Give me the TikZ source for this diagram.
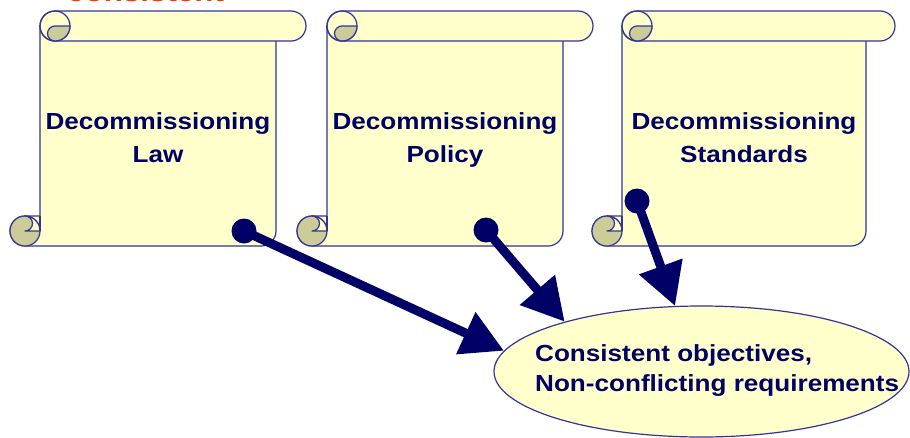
\documentclass[tikz,border=0pt]{standalone}
\usepackage{fontspec}
\setmainfont{Liberation Sans}
\newfontfamily\dfont{Liberation Sans}[FakeStretch=1.12]
\usetikzlibrary{arrows.meta,shapes.geometric}
\definecolor{paper}{HTML}{FFFFCC}
\definecolor{curl}{HTML}{CCCC99}
\definecolor{edge}{HTML}{333399}
\definecolor{ink}{HTML}{000066}
\definecolor{warn}{HTML}{FF3300}
\tikzset{
  paperstyle/.style={fill=paper,draw=edge,line width=1.2pt,line join=round},
  curlstyle/.style={fill=curl,draw=edge,line width=1.2pt,line join=round},
  edgestyle/.style={draw=edge,line width=1.2pt},
  scrolltext/.style={anchor=base,align=center,inner sep=0pt,text=ink,
     font=\dfont\bfseries\fontsize{23.3}{33}\selectfont},
  goaltext/.style={anchor=base west,align=left,inner sep=0pt,text=ink,
     font=\dfont\bfseries\fontsize{23.3}{30}\selectfont},
  dotstyle/.style={circle,fill=ink,minimum size=25pt,inner sep=0pt},
  arr/.style={draw=ink,line width=9pt,-{Triangle[length=42pt,width=44pt]}},
}
\newcommand{\scrollshape}[3]{%
  \filldraw[paperstyle] (#1,26) -- (#1,216) -- (#1-15,216)
     arc[start angle=-90,end angle=-270,radius=15] -- (#2-15,246)
     arc[start angle=90,end angle=0,radius=15] -- (#2,26) -- cycle;
  \filldraw[paperstyle] (#1+15,11) -- (#3-15,11)
     arc[start angle=-90,end angle=90,radius=15] -- (#1+15,41)
     arc[start angle=90,end angle=270,radius=15] -- cycle;
  \draw[edgestyle] (#1+15,26) circle[radius=15];
  \filldraw[curlstyle] (#1+15,26) -- (#1+30,26)
     arc[start angle=0,end angle=90,radius=15]
     arc[start angle=90,end angle=270,radius=7.5] -- cycle;
  \filldraw[curlstyle] (#1-15,231) circle[radius=15];
  \filldraw[paperstyle] (#1-15,231) -- (#1,231)
     arc[start angle=0,end angle=-90,radius=15]
     arc[start angle=-90,end angle=90,radius=7.5] -- cycle;
  \draw[edgestyle] (#1,216) -- (#1,231);
}
\begin{document}
\begin{tikzpicture}[x=1pt,y=-1pt]
\useasboundingbox (0,0) rectangle (910,437);
\clip (0,0) rectangle (910,437);
\node[anchor=base west,inner sep=0pt,text=warn,
  font=\dfont\bfseries\fontsize{28}{30}\selectfont] (warnword) at (67,1.5) {consistent};
\scrollshape{40}{276}{306}
\scrollshape{327}{563}{593}
\scrollshape{622}{866}{895}
\node[scrolltext] (law) at (158,162) {Decommissioning\\Law};
\node[scrolltext] (policy) at (445,162) {Decommissioning\\Policy};
\node[scrolltext] (standards) at (744,162) {Decommissioning\\Standards};
\node[ellipse,fill=paper,draw=edge,line width=1.2pt,minimum width=415pt,
  minimum height=131pt,inner sep=0pt] (goal) at (701.5,371.5) {};
\node[goaltext] (goaltxt) at (535,391) {Consistent objectives,\\Non-conflicting requirements};
\node[dotstyle] (d1) at (244,231) {};
\node[dotstyle] (d2) at (486,230) {};
\node[dotstyle] (d3) at (637,201) {};
\draw[arr] (d1.center) -- (goal.174);
\draw[arr] (d2.center) -- (goal.160);
\draw[arr] (d3.center) -- (goal.112);
\end{tikzpicture}
\end{document}
